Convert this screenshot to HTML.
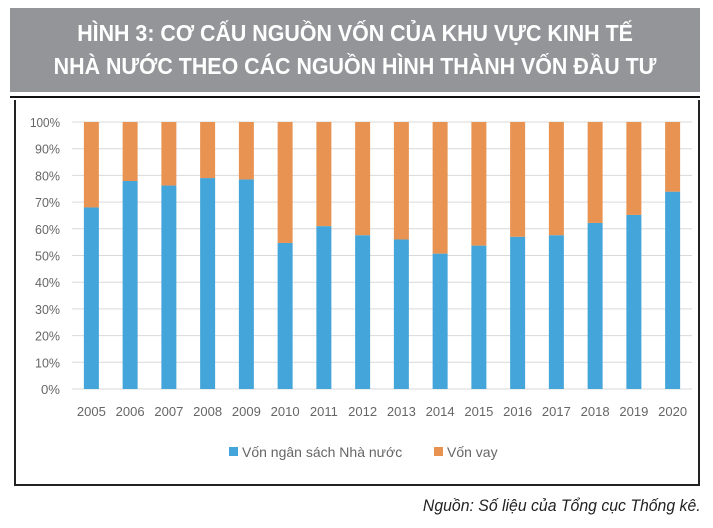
<!DOCTYPE html>
<html><head><meta charset="utf-8"><style>
body{margin:0;width:713px;height:528px;background:#fff;position:relative;overflow:hidden;font-family:"Liberation Sans",sans-serif}
#hdr{position:absolute;left:10px;top:8px;width:690px;height:84px;background:#939598;color:#fff;font-weight:bold;font-size:23px;line-height:33px;text-align:center;padding-top:9px;box-sizing:border-box}
#hdr span{display:inline-block;transform:scaleX(0.93);transform-origin:center}
#rule{position:absolute;left:10px;top:96px;width:690px;height:2px;background:#111}
#box{position:absolute;left:14px;top:100px;width:686px;height:386px;border:2px solid #222;border-top:none;box-sizing:border-box}
#src{position:absolute;right:12px;top:496px;font-style:italic;font-size:17px;color:#222;transform:scaleX(0.93);transform-origin:right}
</style></head><body>
<div id="hdr"><span>HÌNH 3: CƠ CẤU NGUỒN VỐN CỦA KHU VỰC KINH TẾ<br>NHÀ NƯỚC THEO CÁC NGUỒN HÌNH THÀNH VỐN ĐẦU TƯ</span></div>
<div id="rule"></div>
<div id="box"></div>
<svg id="chart" width="713" height="528" style="position:absolute;left:0;top:0"></svg>
<div id="src">Nguồn: Số liệu của Tổng cục Thống kê.</div>
<script>
const years=["2005","2006","2007","2008","2009","2010","2011","2012","2013","2014","2015","2016","2017","2018","2019","2020"];
const budget=[68,77.9,76.2,79,78.5,54.7,61,57.6,56,50.7,53.7,57,57.6,62.2,65.2,73.9];
const ticks=[0,10,20,30,40,50,60,70,80,90,100];
const svg=document.getElementById('chart');const NS='http://www.w3.org/2000/svg';
const y0=389,y1=122,x0=72,x1=692;
const yS=v=>y0-(v/100)*(y0-y1);
const step=(x1-x0)/years.length;
const xS=i=>x0+step*(i+0.5);
function mk(t,a){const e=document.createElementNS(NS,t);for(const k in a)e.setAttribute(k,a[k]);svg.appendChild(e);return e;}
ticks.forEach(t=>{
 const g=mk('line',{x1:x0,x2:x1,y1:yS(t),y2:yS(t),stroke:'#d9d9d9','stroke-width':1});
 
 
 const l=mk('text',{x:60,y:yS(t)+5,'text-anchor':'end','font-size':13,fill:'#666','font-family':'Liberation Sans, sans-serif','textLength':t===100?30:(t===0?19:25),'lengthAdjust':'spacingAndGlyphs'});
 l.textContent=t+'%';
 
 
});
const bw=15;
years.forEach((yr,i)=>{
 const cx=xS(i);
 const b=mk('rect',{x:cx-bw/2,y:yS(budget[i]),width:bw,height:y0-yS(budget[i]),fill:'#44a5da'});
 
 
 const o=mk('rect',{x:cx-bw/2,y:yS(100),width:bw,height:yS(budget[i])-yS(100),fill:'#e89352'});
 
 
 const l=mk('text',{x:cx,y:416,'text-anchor':'middle','font-size':13,fill:'#666','font-family':'Liberation Sans, sans-serif'});
 l.textContent=yr;
 
 
});
const lg=[['#44a5da','Vốn ngân sách Nhà nước',229],['#e89352','Vốn vay',434]];
lg.forEach(([c,t,x])=>{
 const s=mk('rect',{x:x,y:447,width:9,height:9,fill:c});
 
 
 const tx=mk('text',{x:x+13,y:457,'font-size':14,fill:'#666','font-family':'Liberation Sans, sans-serif'});
 tx.textContent=t;
 
 
});
</script>
</body></html>
